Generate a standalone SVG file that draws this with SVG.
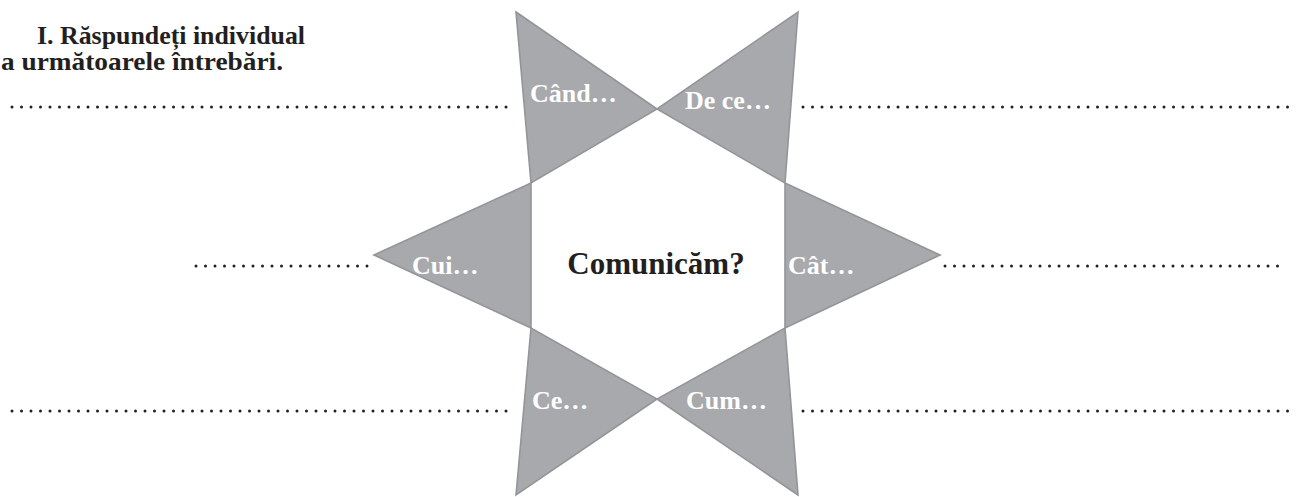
<svg xmlns="http://www.w3.org/2000/svg" width="1299" height="497" viewBox="0 0 1299 497">
<style>
.tri{fill:#a7a9ac;stroke:#939598;stroke-width:1.6;stroke-linejoin:miter}
.lbl{font-family:"Liberation Serif","Times New Roman",serif;font-weight:bold;font-size:26px;fill:#ffffff}
.ctr{font-family:"Liberation Serif","Times New Roman",serif;font-weight:bold;font-size:31px;fill:#231f20}
.ttl{font-family:"Liberation Serif","Times New Roman",serif;font-weight:bold;font-size:26px;fill:#231f20}
.dots{stroke:#231f20;stroke-width:3;stroke-linecap:round;stroke-dasharray:0 9.5;fill:none}
</style>
<rect width="1299" height="497" fill="#ffffff"/>
<g id="title">
<text class="ttl" x="37" y="44" textLength="268" lengthAdjust="spacingAndGlyphs">I. Răspundeți individual</text>
<text class="ttl" x="1" y="70" textLength="282" lengthAdjust="spacingAndGlyphs">a următoarele întrebări.</text>
</g>
<g id="answer-lines">
<line class="dots" x1="12" y1="107" x2="512" y2="107"/>
<line class="dots" x1="803" y1="107" x2="1297" y2="107"/>
<line class="dots" x1="196" y1="266" x2="370" y2="266"/>
<line class="dots" x1="945" y1="266" x2="1287" y2="266"/>
<line class="dots" x1="12" y1="411" x2="512" y2="411"/>
<line class="dots" x1="803" y1="411" x2="1297" y2="411"/>
</g>
<g id="cand">
<polygon class="tri" points="516,12 657,109 531,183"/>
<text class="lbl" x="530" y="102">Când…</text>
</g>
<g id="de-ce">
<polygon class="tri" points="798,12 785,183 657,109"/>
<text class="lbl" x="685" y="109">De ce…</text>
</g>
<g id="cui">
<polygon class="tri" points="374,255 531,183 531,328"/>
<text class="lbl" x="412" y="274">Cui…</text>
</g>
<g id="cat">
<polygon class="tri" points="940,255 785,183 785,328"/>
<text class="lbl" x="788" y="274">Cât…</text>
</g>
<g id="ce">
<polygon class="tri" points="516,495 531,328 657,399"/>
<text class="lbl" x="532" y="409">Ce…</text>
</g>
<g id="cum">
<polygon class="tri" points="798,495 657,399 785,328"/>
<text class="lbl" x="686" y="409">Cum…</text>
</g>
<g id="center">
<text class="ctr" x="656" y="274" text-anchor="middle">Comunicăm?</text>
</g>
</svg>
